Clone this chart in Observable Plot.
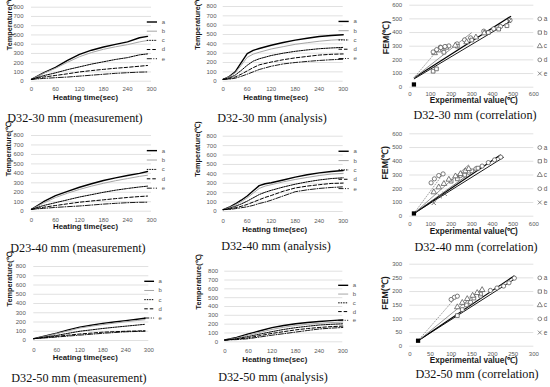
<!DOCTYPE html>
<html><head><meta charset="utf-8">
<script src="https://cdn.jsdelivr.net/npm/d3@7"></script>
<script src="https://cdn.jsdelivr.net/npm/@observablehq/plot@0.6"></script>
<style>
body{margin:0;background:#fff;}
#root{position:relative;width:550px;height:387px;overflow:hidden;background:#fff;}
.panel{position:absolute;}
.panel svg{overflow:visible;}
.cap{position:absolute;font-family:"Liberation Serif",serif;font-size:12.2px;line-height:14px;color:#111;white-space:nowrap;transform:translateX(-50%);}
</style></head><body><div id="root"></div>
<script>
// ---------- data ----------
const series = ["a","b","c","d","e"];
const timeTicks = [0,60,120,180,240,300];
const tempTicks = [0,100,200,300,400,500,600,700,800];
const corrTicks600 = [0,100,200,300,400,500,600];
const corrTicks300 = [0,50,100,150,200,250,300];
const captions = ["D32-30 mm (measurement)","D32-30 mm (analysis)","D32-30 mm (correlation)",
  "D23-40 mm (measurement)","D32-40 mm (analysis)","D32-40 mm (correlation)",
  "D32-50 mm (measurement)","D32-50 mm (analysis)","D32-50 mm (correlation)"];
const lineXTitle = "Heating time(sec)";
const lineYTitle = "Temperature(℃)";
const corrXTitle = "Experimental value(℃)";
const corrYTitle = "FEM(℃)";

const measTimes = [0,30,60,90,120,150,180,210,240,270,290];
const meas30 = {
  a:[20,90,150,225,290,335,370,398,425,470,485],
  b:[20,85,140,205,265,310,345,372,395,425,440],
  c:[20,60,90,125,155,185,210,235,255,285,295],
  d:[20,45,62,80,100,115,128,140,150,162,170],
  e:[20,30,38,45,55,65,75,85,92,98,100]};
const anTimes30 = [0,15,30,45,60,75,90,120,150,180,210,240,270,300];
const an30 = {
  a:[20,50,100,200,295,330,350,385,415,440,460,478,490,497],
  b:[20,45,90,170,255,290,310,345,370,395,412,428,440,447],
  c:[20,35,65,115,170,215,240,275,300,320,335,348,356,362],
  d:[20,28,45,75,110,145,175,205,230,250,265,280,288,292],
  e:[20,22,32,52,75,100,125,160,185,200,212,222,230,235]};
const meas40 = {
  a:[20,100,165,210,253,290,324,352,377,400,420],
  b:[20,85,145,190,230,265,295,322,345,368,380],
  c:[20,60,90,120,150,175,200,222,240,256,265],
  d:[20,42,60,78,95,108,120,133,145,155,160],
  e:[20,30,40,48,55,65,75,83,90,94,95]};
const anTimes40 = [0,15,30,45,60,75,90,105,120,150,180,210,240,270,300];
const an40 = {
  a:[20,45,80,120,165,220,275,295,305,335,365,390,410,425,435],
  b:[20,40,70,105,145,195,245,270,285,315,340,362,382,398,405],
  c:[20,32,55,80,110,145,180,205,225,260,290,315,335,350,358],
  d:[20,25,40,55,75,100,125,150,170,215,250,270,285,298,302],
  e:[20,22,30,40,50,65,85,100,120,165,210,230,245,255,262]};
const meas50 = {
  a:[20,50,80,115,145,165,185,200,215,230,240],
  b:[20,45,75,105,135,155,172,188,203,217,225],
  c:[20,38,55,78,100,115,130,143,155,167,175],
  d:[20,32,45,58,70,80,90,95,100,103,105],
  e:[20,28,38,48,58,68,78,86,94,98,100]};
const anTimes50 = [0,30,60,90,120,150,180,210,240,270,300];
const an50 = {
  a:[20,50,90,125,160,185,205,218,230,240,248],
  b:[20,42,75,108,140,165,185,198,210,218,224],
  c:[20,35,60,88,115,140,160,176,190,198,204],
  d:[20,30,45,70,95,115,135,150,162,172,178],
  e:[20,25,35,55,75,92,110,128,145,155,162]};

// correlation: [experimental values], [FEM values]
const corr30Exp = {a:[148,189,229,265,294,358,406,439,485], b:[113,129,165,230,300,380,430,470], c:[120,140,175,220,275,320,360], d:[113,130,150,170], e:[480]};
const corr30Fem = {a:[293,302,317,346,361,410,427,444,490], b:[117,134,256,300,345,400,425,450], c:[250,270,290,305,330,365,395], d:[258,275,290,298], e:[485]};
const corr30Trend = {a:[20,68,490,520], b:[20,60,490,485], c:[20,68,300,400], d:[20,68,150,300]};
const corr40Exp = {a:[245,285,320,350,380,410,440], b:[200,230,265,300,330], c:[116,140,165,189,221,245,269,285], d:[103,119,140,161], e:[116,145,169]};
const corr40Fem = {a:[296,320,345,365,390,410,430], b:[255,272,300,330,350], c:[175,211,236,267,291,308,328,345], d:[243,272,296,308], e:[97,146,163]};
const corr40Trend = {a:[20,20,440,447], b:[20,20,455,430], c:[20,20,285,374], d:[20,20,161,308], e:[20,20,277,296]};
const corr50Exp = {a:[147,171,195,211,227,240,253], b:[115,127,137,155,171], c:[115,127,139,152,163,175], d:[100,108,115], e:[]};
const corr50Fem = {a:[161,183,204,213,220,232,249], b:[112,134,151,176,191], c:[143,159,173,185,195,206], d:[171,179,183], e:[]};
const corr50Trend = {a:[20,20,253,258], b:[20,20,253,245], c:[20,20,175,210], d:[20,20,115,185]};
const startPoint = [[20,20]];
const corrSymbols = ["circle","square","triangle","circle","times"];

// ---------- styles ----------
const lineStyle = {
  a:{stroke:"#000", strokeWidth:1.4},
  b:{stroke:"#a6a6a6", strokeWidth:1},
  c:{stroke:"#000", strokeWidth:1, strokeDasharray:"1.5,1"},
  d:{stroke:"#000", strokeWidth:1, strokeDasharray:"3.5,2"},
  e:{stroke:"#000", strokeWidth:0.9, strokeDasharray:"5,1.5,1,1.5"}};
const trendStyle = {
  a:{stroke:"#000", strokeWidth:1.2},
  b:{stroke:"#000", strokeWidth:0.9},
  c:{stroke:"#8c8c8c", strokeWidth:0.9},
  d:{stroke:"#8c8c8c", strokeWidth:0.9, strokeDasharray:"1.5,1"},
  e:{stroke:"#404040", strokeWidth:0.7}};
const tickColor = "#595959";
const titleColor = "#1a1a1a";
const root = document.getElementById("root");

function place(svg, box){
  const d = document.createElement("div");
  d.className = "panel";
  d.style.left = box.left+"px"; d.style.top = box.top+"px";
  d.appendChild(svg); root.appendChild(d);
}
function caption(text, cx, cy){
  const d = document.createElement("div");
  d.className = "cap"; d.textContent = text;
  d.style.left = cx+"px"; d.style.top = (cy-7)+"px";
  root.appendChild(d);
}
function margins(box, fr){
  return {width:box.width, height:box.height,
    marginLeft:fr.x0-box.left, marginRight:box.left+box.width-fr.x1,
    marginTop:fr.yT-box.top, marginBottom:box.top+box.height-fr.yB};
}

function linePanel(c){
  const xMax = timeTicks[timeTicks.length-1], yMax = tempTicks[tempTicks.length-1];
  const marks = [
    Plot.gridY(tempTicks, {stroke:"#d9d9d9", strokeOpacity:1, strokeWidth:0.8}),
    Plot.axisY(tempTicks, {tickSize:0, tickPadding:c.padY, fontSize:6, color:tickColor, label:null}),
    Plot.axisX(timeTicks, {tickSize:0, tickPadding:c.padX, fontSize:6, color:tickColor, label:null}),
    Plot.text([lineXTitle], {frameAnchor:"bottom", dx:c.xtdx, dy:c.xt, text:d=>d, fontWeight:"bold", fontSize:7.8, fill:titleColor}),
    Plot.text([lineYTitle], {frameAnchor:"left", dx:c.yt, dy:c.ytdy, text:d=>d, rotate:-90, fontWeight:"bold", fontSize:7.3, fill:titleColor})
  ];
  series.forEach((s,i)=>{
    const rows = c.times.map((t,j)=>({t, v:c.values[s][j]}));
    marks.push(Plot.line(rows, {x:"t", y:"v", ...lineStyle[s]}));
    const ly = yMax*(0.8 - i*0.124);
    marks.push(Plot.ruleY([ly], {x1:xMax*0.965, x2:xMax*1.05, ...lineStyle[s]}));
    marks.push(Plot.text([s], {x:xMax*1.085, y:ly, text:d=>d, textAnchor:"start", fontSize:6, fill:tickColor}));
  });
  const svg = Plot.plot({...margins(c.box, c.frame),
    style:{fontFamily:"Liberation Sans, Arial, sans-serif", background:"transparent", overflow:"visible"},
    x:{domain:[0,xMax], axis:null}, y:{domain:[0,yMax], axis:null}, marks});
  place(svg, c.box);
}

function corrPanel(c){
  const ticks = c.ticks, tMax = ticks[ticks.length-1];
  const legendY = ticks.slice(1, ticks.length-1).reverse();
  const pts = [];
  series.forEach(s=>c.exp[s].forEach((x,j)=>pts.push({s, x, y:c.fem[s][j]})));
  const legendRows = series.map((s,i)=>({s, y:legendY[i]}));
  const marks = [
    Plot.gridY(ticks, {stroke:"#d9d9d9", strokeOpacity:1, strokeWidth:0.8}),
    Plot.axisY(ticks, {tickSize:0, tickPadding:c.padY, fontSize:6, color:tickColor, label:null}),
    Plot.axisX(ticks, {tickSize:0, tickPadding:c.padX, fontSize:6, color:tickColor, label:null}),
    Plot.text([corrXTitle], {frameAnchor:"bottom", dx:2, dy:c.xt, text:d=>d, fontWeight:"bold", fontSize:8.2, fill:titleColor}),
    Plot.text([corrYTitle], {frameAnchor:"left", dx:c.yt, dy:c.ytdy, text:d=>d, rotate:-90, fontWeight:"bold", fontSize:8.8, fill:titleColor})
  ];
  series.forEach(s=>{
    const t = c.trend[s]; if(!t) return;
    marks.push(Plot.link([t], {x1:d=>d[0], y1:d=>d[1], x2:d=>d[2], y2:d=>d[3], ...trendStyle[s]}));
  });
  marks.push(Plot.dot(pts, {x:"x", y:"y", symbol:"s", r:2.1, stroke:"#595959", strokeWidth:0.8, fill:"white"}));
  marks.push(Plot.dot(startPoint, {x:d=>d[0], y:d=>d[1], symbol:"square", r:2.4, fill:"#000"}));
  marks.push(Plot.dot(legendRows, {frameAnchor:"right", dx:6, y:"y", symbol:"s", r:1.9, stroke:"#595959", strokeWidth:0.7, fill:"white"}));
  marks.push(Plot.text(legendRows, {frameAnchor:"right", dx:10, y:"y", text:"s", textAnchor:"start", fontSize:6.5, fill:tickColor}));
  const svg = Plot.plot({...margins(c.box, c.frame),
    style:{fontFamily:"Liberation Sans, Arial, sans-serif", background:"transparent", overflow:"visible"},
    symbol:{domain:series, range:corrSymbols},
    x:{domain:[0,tMax], axis:null}, y:{domain:[0,tMax], axis:null}, marks});
  place(svg, c.box);
}

// ---------- layout ----------
linePanel({times:measTimes, values:meas30, box:{left:0,top:0,width:175,height:106}, frame:{x0:31,x1:151,yT:6.7,yB:80.7}, padX:6, padY:8, xt:18.8, xtdx:-6, yt:-21.7, ytdy:6});
linePanel({times:anTimes30, values:an30, box:{left:180,top:0,width:180,height:106}, frame:{x0:222.7,x1:342.7,yT:6,yB:80.7}, padX:6, padY:6.7, xt:18.8, xtdx:-7.5, yt:-26, ytdy:6});
corrPanel({exp:corr30Exp, fem:corr30Fem, trend:corr30Trend, ticks:corrTicks600, box:{left:365,top:0,width:185,height:106}, frame:{x0:409.3,x1:533.3,yT:4.7,yB:86.7}, padX:4.5, padY:7.6, xt:16, yt:-24, ytdy:8});

linePanel({times:measTimes, values:meas40, box:{left:0,top:125,width:175,height:112}, frame:{x0:31,x1:151,yT:135,yB:210.7}, padX:7, padY:8, xt:17.8, xtdx:-6, yt:-22.7, ytdy:3});
linePanel({times:anTimes40, values:an40, box:{left:180,top:125,width:180,height:112}, frame:{x0:222.7,x1:342.7,yT:135.7,yB:211}, padX:7, padY:6.7, xt:20, xtdx:-8.5, yt:-26, ytdy:3});
corrPanel({exp:corr40Exp, fem:corr40Fem, trend:corr40Trend, ticks:corrTicks600, box:{left:365,top:125,width:185,height:112}, frame:{x0:409.3,x1:533.3,yT:133.3,yB:215.7}, padX:5.3, padY:7.6, xt:17.6, yt:-24.3, ytdy:4.5});

linePanel({times:measTimes, values:meas50, box:{left:0,top:255,width:175,height:112}, frame:{x0:33.3,x1:148.3,yT:266,yB:340}, padX:7, padY:8, xt:19, xtdx:-6, yt:-24, ytdy:3});
linePanel({times:anTimes50, values:an50, box:{left:180,top:255,width:180,height:112}, frame:{x0:224.3,x1:342.3,yT:270.7,yB:341.3}, padX:7, padY:6.7, xt:19.7, xtdx:-9, yt:-26, ytdy:3});
corrPanel({exp:corr50Exp, fem:corr50Fem, trend:corr50Trend, ticks:corrTicks300, box:{left:365,top:255,width:185,height:112}, frame:{x0:409.3,x1:533.3,yT:263.7,yB:345.7}, padX:5.3, padY:7.6, xt:16.6, yt:-24.3, ytdy:4.5});

const capPos = [[75,118.3],[272,118],[475,115],[78,248.3],[276,246],[476,246.7],[79,377.7],[273,376.7],[477,374.3]];
captions.forEach((t,i)=>caption(t, capPos[i][0], capPos[i][1]));
</script></body></html>
